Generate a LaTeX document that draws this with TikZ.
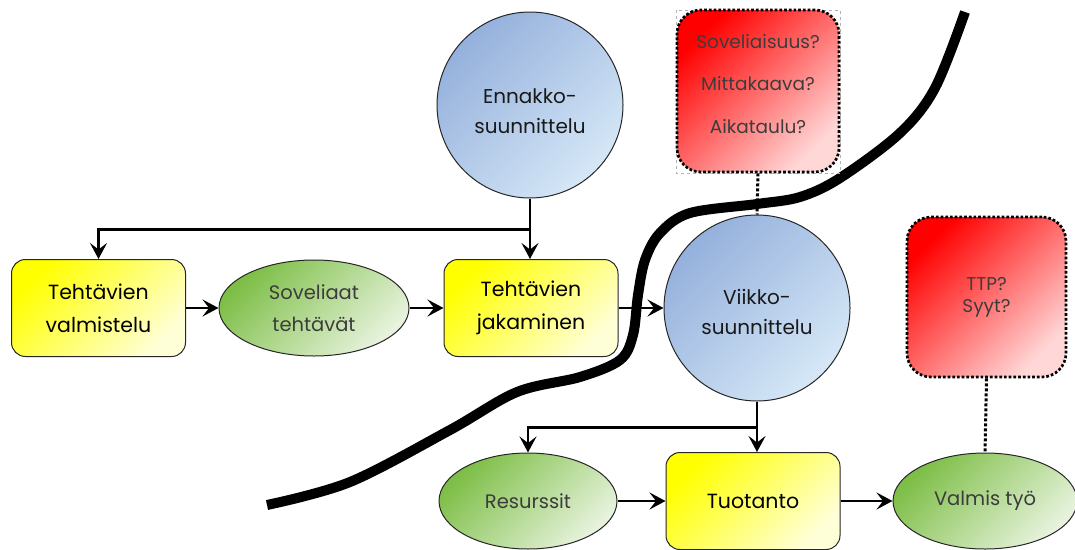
\documentclass[tikz,border=0pt]{standalone}
\usepackage{fontspec}
\setmainfont{Poppins}
\usetikzlibrary{arrows.meta,shapes.geometric}
\definecolor{yA}{RGB}{255,255,0}
\definecolor{yB}{RGB}{255,255,215}
\definecolor{bA}{RGB}{148,176,220}
\definecolor{bB}{RGB}{214,232,247}
\definecolor{gA}{RGB}{125,190,70}
\definecolor{gB}{RGB}{232,243,222}
\definecolor{rA}{RGB}{255,0,0}
\definecolor{rB}{RGB}{255,215,215}
\definecolor{txtgray}{RGB}{60,60,60}
\begin{document}
\begin{tikzpicture}[x=1pt,y=-1pt,
  box/.style={draw=black!85, line width=1pt, rounded corners=14pt,
    minimum width=174pt, minimum height=97pt, inner sep=0pt,
    top color=yA, bottom color=yB, shading angle=45,
    align=center, text=black, font=\fontsize{20.5}{33}\selectfont},
  circ/.style={circle, draw=black!85, line width=1pt, minimum size=186pt, inner sep=0pt,
    top color=bA, bottom color=bB, shading angle=45},
  ctext/.style={align=center, text=black!90, font=\fontsize{20}{30}\selectfont},
  ell/.style={ellipse, draw=black!85, line width=1pt, minimum width=190pt, minimum height=96pt, inner sep=0pt,
    top color=gA, bottom color=gB, shading angle=45,
    align=center, text=txtgray, font=\fontsize{19.5}{32}\selectfont},
  qbox/.style={draw=black, line width=2.7pt, dotted, rounded corners=24pt,
    minimum width=160pt, minimum height=160pt, inner sep=0pt,
    top color=rA, bottom color=rB, shading angle=45},
  qtext/.style={align=center, text=txtgray, font=\fontsize{18.5}{22}\selectfont},
  arr/.style={draw=black, line width=2.9pt, -{Stealth[length=16pt,width=17pt,inset=6.5pt]}},
  dotline/.style={draw=black, line width=3pt, dotted},
  wall/.style={draw=black, line width=10pt}
]
\useasboundingbox (0,0) rectangle (1075,549);

% thick dividing curve
\draw[wall] plot[smooth, tension=0.55] coordinates {(267,505) (350,482) (450,430) (517,392) (580,377) (620,360) (633,335) (638,295) (645,260) (660,233) (690,213) (757,204) (800,197) (840,178) (900,133) (935,88) (965,12)};

% nodes
\node[box] (valm) at (98.5,308) {Tehtävien\\valmistelu};
\node[ell] (sov) at (314,308) {Soveliaat\\tehtävät};
\node[box] (jak) at (531,308) {Tehtävien\\jakaminen};
\node[circ, label={[ctext, yshift=-6pt]center:Ennakko-\\suunnittelu}] (enn) at (530,105) {};
\node[circ, label={[ctext, yshift=-4pt]center:Viikko-\\suunnittelu}] (viik) at (757,308) {};
\node[ell, minimum width=178pt] (res) at (528,501) {Resurssit};
\node[box] (tuo) at (753,501) {Tuotanto};
\node[ell, minimum width=184pt] (val) at (985,501) {Valmis työ};

\draw[gray!60, line width=0.6pt, dashed] (676,10) rectangle (840,173);
\node[qbox, minimum width=162pt, minimum height=162pt,
  label={[qtext, font=\fontsize{18.5}{42.5}\selectfont, yshift=7pt]center:Soveliaisuus?\\Mittakaava?\\Aikataulu?}] (q1) at (758,91) {};
\node[qbox, minimum width=159pt, label={[qtext]center:TTP?\\Syyt?}] (q2) at (986.5,297) {};

% connectors
\draw[arr] (enn.south) -- (enn.south |- jak.north);
\draw[arr] (enn.south) -- ++(0,31) -| (valm.north);
\draw[arr] (valm.east) -- (sov.west);
\draw[arr] (sov.east) -- (jak.west);
\draw[arr] (jak.east) -- (viik.west);
\draw[arr] (viik.south) -- (viik.south |- tuo.north);
\draw[arr] (viik.south) -- ++(0,26) -| (res.north);
\draw[arr] (res.east) -- (tuo.west);
\draw[arr] (tuo.east) -- (val.west);
\draw[dotline] (q1.south) -- (viik.north);
\draw[dotline] (q2.south) -- (val.north);
\end{tikzpicture}
\end{document}
